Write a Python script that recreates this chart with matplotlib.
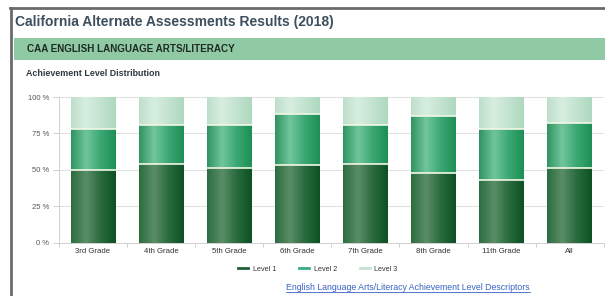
import numpy as np
import matplotlib
matplotlib.use("Agg")
import matplotlib.pyplot as plt
from matplotlib.colors import LinearSegmentedColormap
from matplotlib.lines import Line2D

categories = ["3rd Grade", "4th Grade", "5th Grade", "6th Grade", "7th Grade", "8th Grade", "11th Grade", "All"]
level1 = [50, 54, 51, 53, 54, 48, 43, 51]
level2 = [28, 27, 30, 35, 27, 39, 35, 31]
level3 = [22, 19, 19, 12, 19, 13, 22, 18]
series_names = ["Level 1", "Level 2", "Level 3"]
ytick_labels = ["0 %", "25 %", "50 %", "75 %", "100 %"]

plt.rcParams['font.family'] = ['Liberation Sans', 'DejaVu Sans']

fig = plt.figure(figsize=(6.05, 2.96), dpi=100)
W, H = 605, 296

def fx(px):
    return px / W

def fy(py):
    return 1 - py / H

# outer frame (top and left)
fig.add_artist(Line2D([fx(10), 1], [fy(8), fy(8)], color="#6b6b6b", lw=2))
fig.add_artist(Line2D([fx(11), fx(11)], [fy(8), 0], color="#6b6b6b", lw=2))

fig.text(fx(15), fy(22), "California Alternate Assessments Results (2018)", fontsize=10,
         fontweight="bold", color="#3d4f5c", va="center", ha="left")

# green band
fig.add_artist(plt.Rectangle((fx(14), fy(60)), 1 - fx(14), (60 - 38) / H,
                             transform=fig.transFigure, facecolor="#8fcaa5", edgecolor="none"))
fig.text(fx(27), fy(48.5), "CAA ENGLISH LANGUAGE ARTS/LITERACY", fontsize=7.1,
         fontweight="bold", color="#1f2a24", va="center", ha="left")
fig.text(fx(26), fy(73), "Achievement Level Distribution", fontsize=6.4,
         fontweight="bold", color="#2f3a40", va="center", ha="left")

ax = fig.add_axes([fx(59), fy(242.7), 1 - fx(59) - 0.002, (242.7 - 97) / H])

x = np.arange(len(categories))
width = 0.66
l1 = np.array(level1, float)
l2 = np.array(level2, float)
l3 = np.array(level3, float)

cmaps = [
    LinearSegmentedColormap.from_list("l1", ["#2c6e3f", "#5b8d68", "#2a6b3c", "#0c5224"]),
    LinearSegmentedColormap.from_list("l2", ["#2f9462", "#72c59c", "#3aa873", "#1e8f55"]),
    LinearSegmentedColormap.from_list("l3", ["#bfdfcb", "#d8eee0", "#c3e3cf", "#b0d8bf"]),
]
legend_colors = ["#1f5f36", "#3aad80", "#c4e2cf"]

grad = np.linspace(0, 1, 64).reshape(1, -1)
bottoms = [np.zeros_like(l1), l1, l1 + l2]
vals = [l1, l2, l3]
for i, (v, b) in enumerate(zip(vals, bottoms)):
    bars = ax.bar(x, v, width, bottom=b, color=legend_colors[i], edgecolor="none",
                  zorder=2, label=series_names[i])
    for rect in bars:
        x0, y0 = rect.get_x(), rect.get_y()
        w, h = rect.get_width(), rect.get_height()
        im = ax.imshow(grad, cmap=cmaps[i], aspect="auto",
                       extent=(x0, x0 + w, y0, y0 + h), zorder=2.5)
        im.set_clip_path(rect)
    if i < 2:
        tops = b + v
        for xi, t in zip(x, tops):
            ax.plot([xi - width / 2, xi + width / 2], [t, t], color="#f2f7e6", lw=1.2,
                    zorder=3, solid_capstyle="butt")

ax.set_xlim(-0.5, len(categories) - 0.5)
ax.set_ylim(0, 100)
ax.set_yticks([0, 25, 50, 75, 100])
ax.set_yticklabels(ytick_labels)
ax.set_xticks(x)
ax.set_xticklabels(categories)
ax.set_xticks(np.arange(-0.5, len(categories), 1), minor=True)
ax.tick_params(axis="x", which="major", length=0, labelsize=5.6, labelcolor="#333333", pad=4)
ax.tick_params(axis="x", which="minor", length=3, color="#c8c8c8", width=0.6)
ax.tick_params(axis="y", length=4, color="#c8c8c8", width=0.6, labelsize=5.5,
               labelcolor="#555555", pad=3)
ax.grid(axis="y", color="#e0e0e0", lw=0.7, zorder=0)
ax.set_axisbelow(True)
for s in ["top", "right"]:
    ax.spines[s].set_visible(False)
ax.spines["left"].set_color("#d0d0d0")
ax.spines["bottom"].set_color("#d0d0d0")
ax.spines["left"].set_linewidth(0.7)
ax.spines["bottom"].set_linewidth(0.7)

handles = [Line2D([0], [0], color=c, lw=2) for c in legend_colors]
fig.legend(handles, series_names, loc="center", bbox_to_anchor=(fx(318), fy(269)),
           ncol=3, frameon=False, fontsize=5.2, handlelength=1.4, handletextpad=0.6,
           columnspacing=3.2, labelcolor="#333333")

link = fig.text(fx(408), fy(288), "English Language Arts/Literacy Achievement Level Descriptors",
                fontsize=6.3, color="#3a63c4", ha="center", va="center")
fig.canvas.draw()
bb = link.get_window_extent(renderer=fig.canvas.get_renderer())
bbf = bb.transformed(fig.transFigure.inverted())
fig.add_artist(Line2D([bbf.x0, bbf.x1], [bbf.y0 + 0.003, bbf.y0 + 0.003], color="#3a63c4", lw=0.6))

fig.savefig("out.png", dpi=100, facecolor="white")
